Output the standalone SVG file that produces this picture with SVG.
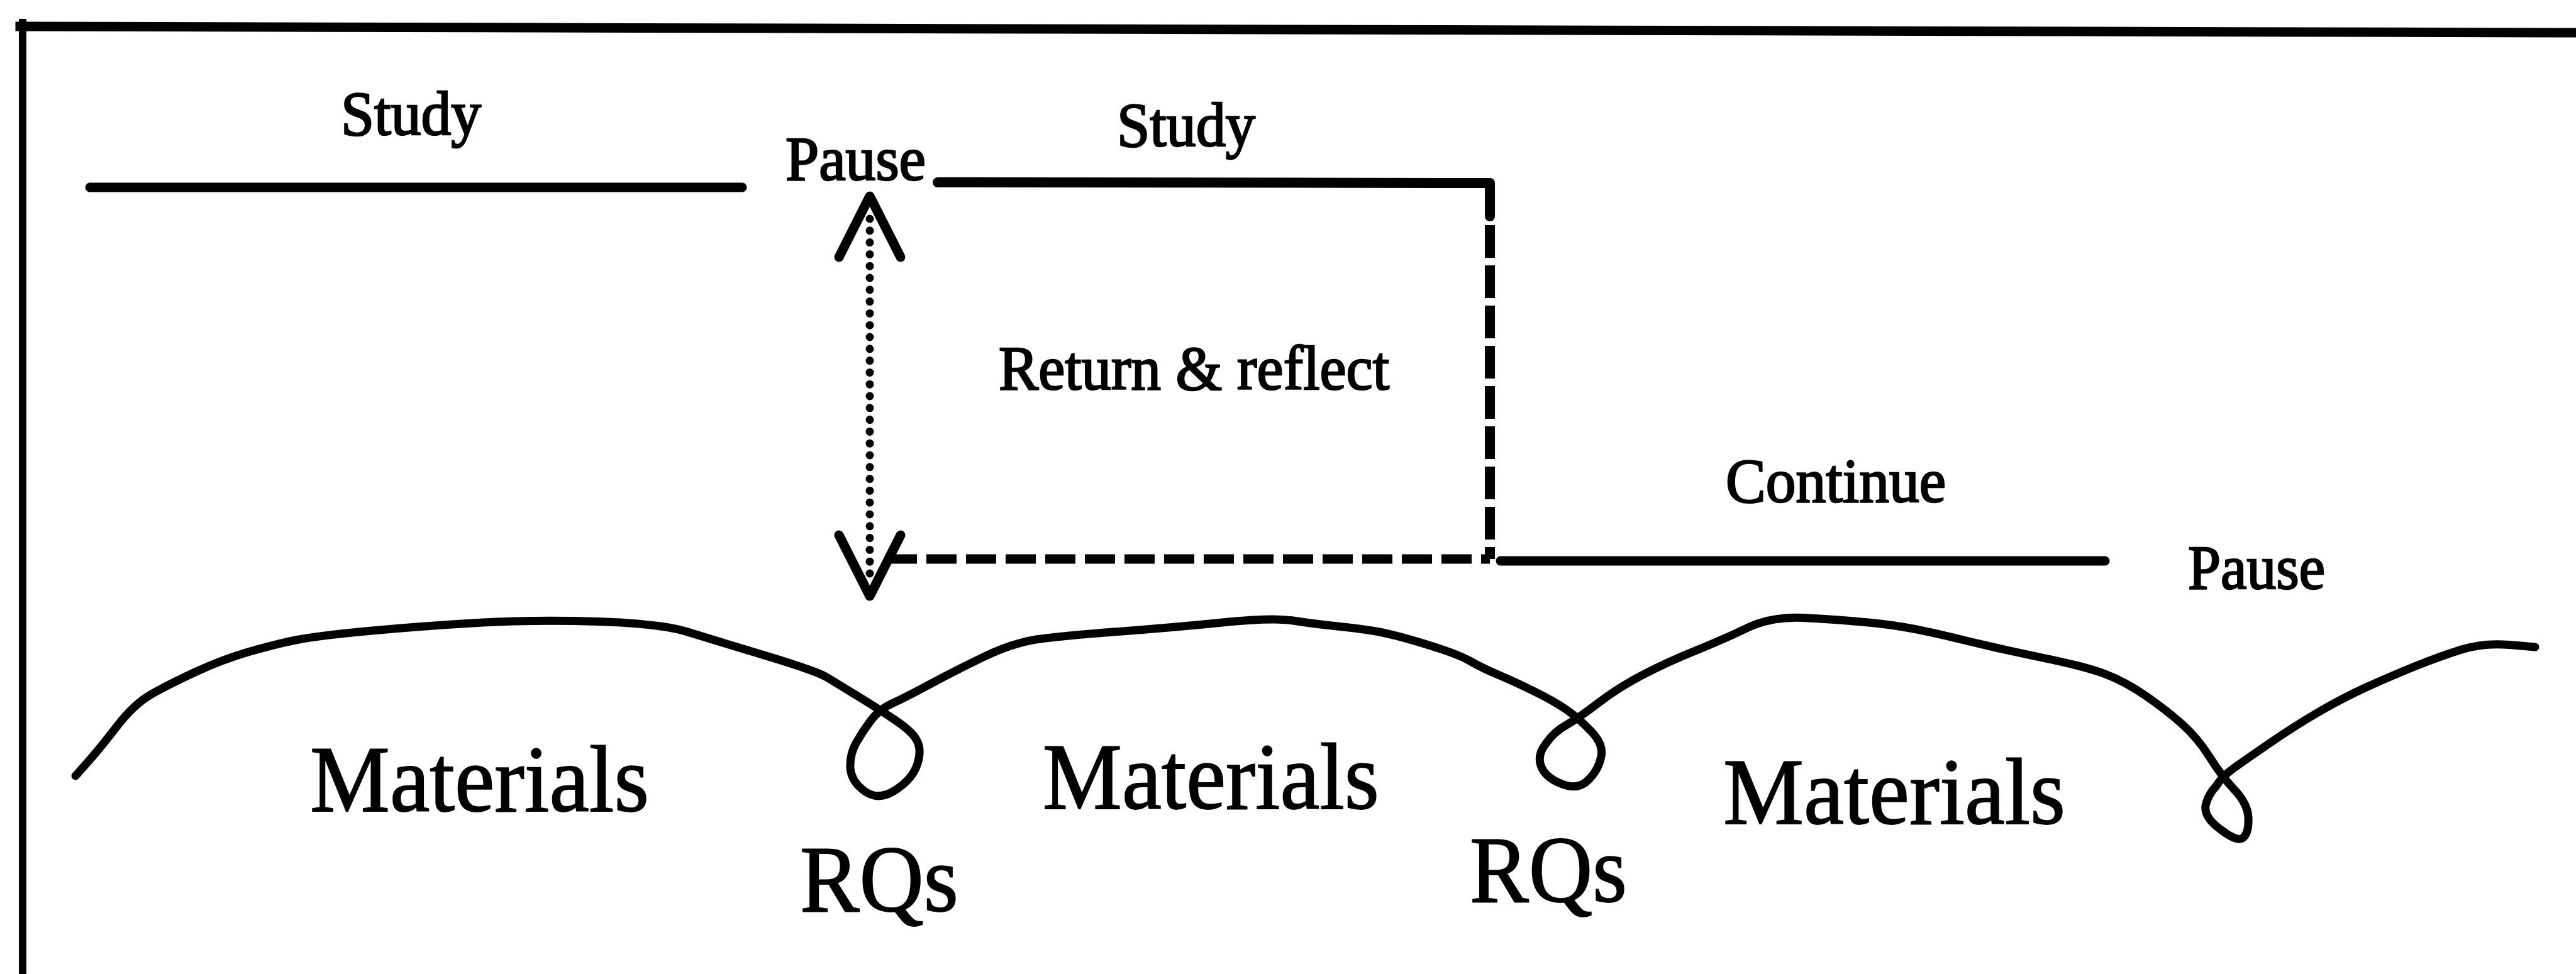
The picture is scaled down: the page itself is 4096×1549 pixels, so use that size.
<svg xmlns="http://www.w3.org/2000/svg" width="4096" height="1549" viewBox="0 0 4096 1549">
  <style>
    .ink { fill: none; stroke: #000; stroke-linecap: round; stroke-linejoin: round; }
    .frame { fill: none; stroke: #000; stroke-linecap: square; }
    .solid { stroke-width: 15; }
    .dash-h { stroke-width: 15; stroke-dasharray: 48 15; stroke-linecap: butt; }
    .dash-v { stroke-width: 16; stroke-dasharray: 52 12; stroke-linecap: butt; }
    .dots { stroke-width: 13; stroke-dasharray: 0 18.8; }
    .lbl { font-family: "Liberation Serif", "Times New Roman", serif; fill: #000; stroke: #000; font-size: 99px; stroke-width: 2.6; }
    .big { font-size: 150px; stroke-width: 1.8; }
  </style>
  <defs>
    <!-- open V head used at both ends of the dotted return arrow -->
    <marker id="vhead" markerUnits="userSpaceOnUse" viewBox="-75 -65 125 130" refX="0" refY="0" markerWidth="125" markerHeight="130" orient="auto-start-reverse" overflow="visible">
      <path d="M-61,-49 L36,0 L-61,49" fill="none" stroke="#000" stroke-width="15" stroke-linecap="round" stroke-linejoin="round"/>
    </marker>
  </defs>

  <rect width="4096" height="1549" fill="#fff"/>

  <!-- frame: top and left edges -->
  <g id="frame">
    <line class="frame" x1="36" y1="36" x2="36" y2="1549" stroke-width="12"/>
    <line class="frame" x1="32" y1="42" x2="4096" y2="52" stroke-width="15"/>
  </g>

  <!-- time-line segments -->
  <g id="connectors">
    <line id="study-line-1" class="ink solid" x1="143" y1="298" x2="1180" y2="298"/>
    <path id="study-line-2" class="ink solid" d="M1491,290 L2369,291 L2369,344" stroke-linejoin="miter" stroke-linecap="butt" style="stroke-width:16"/>
    <line id="drop-dashed" class="ink dash-v" x1="2369" y1="358" x2="2369" y2="889"/>
    <line id="return-dashed" class="ink dash-h" x1="1410" y1="889" x2="2369" y2="889"/>
    <line id="continue-line" class="ink solid" x1="2386" y1="892" x2="3347" y2="892"/>
    <path id="reflect-arrow" class="ink dots" d="M1383,348 L1383,912" marker-start="url(#vhead)" marker-end="url(#vhead)"/>
  </g>

  <!-- materials thread with research-question loops -->
  <g id="materials-thread">
    <path class="ink" stroke-width="13" d="M120,1234 L139.5,1212 Q159,1190 186,1155 Q213,1120 240,1104.5 Q267,1089 310,1069 Q353,1049 396,1036.5 Q439,1024 472.5,1017.5 Q506,1011 586,1003.5 Q666,996 759,990.5 Q852,985 952,988.5 Q1052,992 1092,1004.5 Q1132,1017 1215,1042 Q1298,1067 1314.5,1077 Q1331,1087 1364.5,1107.5 Q1398,1128 1424.5,1146 Q1451,1164 1457.5,1177 Q1466,1192 1459,1214 Q1452,1238 1424.5,1256 Q1398,1274 1376,1259 Q1354,1244 1352,1221.5 Q1351,1200 1361,1182 Q1371,1164 1384.5,1146 Q1398,1128 1418,1119 Q1438,1110 1478,1088.5 Q1518,1067 1564.5,1044.5 Q1611,1022 1651,1016.5 Q1691,1011 1777.5,1004.5 Q1864,998 1944,990 Q2024,982 2056,987 Q2088,992 2126.5,996 Q2165,1000 2190.5,1004.5 Q2216,1009 2267,1024.5 Q2318,1040 2337,1051 Q2356,1062 2382,1073 Q2408,1084 2439.5,1099.5 Q2471,1115 2490.5,1128.5 Q2510,1142 2529,1162 Q2550,1183 2546,1203 Q2542,1224 2526,1240 Q2510,1257 2484,1247 Q2457,1237 2450,1217.5 Q2444,1200 2458.5,1182 Q2471,1164 2490.5,1153 Q2510,1142 2542,1117.5 Q2574,1093 2612.5,1073 Q2651,1053 2695.5,1035 Q2740,1017 2778.5,998.5 Q2817,980 2868,982.5 Q2919,985 2976.5,990.5 Q3034,996 3104,1013.5 Q3174,1031 3245,1045.5 Q3316,1060 3347.5,1072 Q3379,1084 3411,1106 Q3443,1128 3468.5,1150.5 Q3494,1173 3513.5,1204 Q3533,1235 3552,1255 Q3574,1278 3575,1300 Q3576,1324 3567,1332 Q3558,1340 3532,1320 Q3504,1300 3507,1281 Q3511,1264 3523.5,1250.5 Q3533,1235 3552,1221.5 Q3571,1208 3609.5,1181.5 Q3648,1155 3686.5,1132.5 Q3725,1110 3763.5,1092.5 Q3802,1075 3840.5,1059.5 Q3879,1044 3914,1033 Q3949,1022 3990,1025.5 L4031,1029"/>
  </g>

  <!-- phase labels -->
  <g id="label-study-1"><text class="lbl" x="542" y="214" textLength="223" lengthAdjust="spacingAndGlyphs">Study</text></g>
  <g id="label-pause-1"><text class="lbl" x="1249" y="286" textLength="223" lengthAdjust="spacingAndGlyphs">Pause</text></g>
  <g id="label-study-2"><text class="lbl" x="1776" y="232" textLength="220" lengthAdjust="spacingAndGlyphs">Study</text></g>
  <g id="label-return"><text class="lbl" x="1588" y="619" textLength="621" lengthAdjust="spacingAndGlyphs">Return &amp; reflect</text></g>
  <g id="label-continue"><text class="lbl" x="2744" y="798" textLength="350" lengthAdjust="spacingAndGlyphs">Continue</text></g>
  <g id="label-pause-2"><text class="lbl" x="3479" y="936" textLength="218" lengthAdjust="spacingAndGlyphs">Pause</text></g>

  <g id="label-materials-1"><text class="lbl big" x="493" y="1290" textLength="539" lengthAdjust="spacingAndGlyphs">Materials</text></g>
  <g id="label-materials-2"><text class="lbl big" x="1658" y="1286" textLength="535" lengthAdjust="spacingAndGlyphs">Materials</text></g>
  <g id="label-materials-3"><text class="lbl big" x="2740" y="1310" textLength="544" lengthAdjust="spacingAndGlyphs">Materials</text></g>
  <g id="label-rqs-1"><text class="lbl big" x="1272" y="1449" textLength="252" lengthAdjust="spacingAndGlyphs">RQs</text></g>
  <g id="label-rqs-2"><text class="lbl big" x="2337" y="1434" textLength="250" lengthAdjust="spacingAndGlyphs">RQs</text></g>
</svg>
